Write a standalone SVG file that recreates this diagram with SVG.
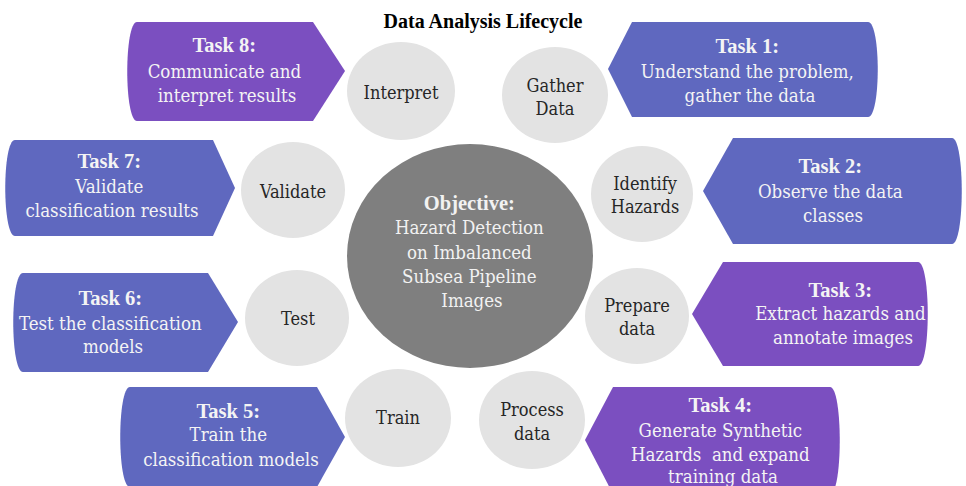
<svg xmlns="http://www.w3.org/2000/svg" width="966" height="486" viewBox="0 0 966 486">
  <style>
    .bg { fill: #ffffff; }
    .purple { fill: #7b4fc0; }
    .blue { fill: #5f68bf; }
    .step { fill: #e3e3e3; }
    .core { fill: #7f7f7f; }
    text, tspan { font-family: "DejaVu Serif Condensed", "DejaVu Serif", "Liberation Serif", serif; font-stretch: condensed; text-anchor: middle; }
    .title { font-family: "Liberation Serif", serif; font-size: 20px; font-weight: bold; fill: #000000; }
    .task { font-size: 18.5px; fill: #f4f4f4; }
    .h { font-family: "Liberation Serif", serif; font-weight: bold; font-size: 20.5px; }
    .lbl { font-size: 18px; fill: #262626; }
    .obj { font-size: 18.5px; fill: #f2f2f2; }
  </style>

  <rect class="bg" x="0" y="0" width="966" height="486"/>

  <text class="title" x="483" y="28">Data Analysis Lifecycle</text>

  <!-- central objective -->
  <g id="objective">
    <ellipse class="core" cx="470" cy="256" rx="123" ry="112"/>
    <text class="obj">
      <tspan class="h" x="472" y="210">Objective:</tspan>
      <tspan x="472" y="234">Hazard Detection</tspan>
      <tspan x="472" y="259">on Imbalanced</tspan>
      <tspan x="472" y="283">Subsea Pipeline</tspan>
      <tspan x="472" y="307">Images</tspan>
    </text>
  </g>

  <!-- lifecycle stages -->
  <g id="stage-interpret">
    <ellipse class="step" cx="401" cy="91" rx="54" ry="49"/>
    <text class="lbl" x="401" y="99">Interpret</text>
  </g>
  <g id="stage-gather">
    <ellipse class="step" cx="555" cy="95" rx="53" ry="48"/>
    <text class="lbl"><tspan x="555" y="92">Gather</tspan><tspan x="555" y="115">Data</tspan></text>
  </g>
  <g id="stage-identify">
    <ellipse class="step" cx="642" cy="194" rx="51" ry="48"/>
    <text class="lbl"><tspan x="645" y="190">Identify</tspan><tspan x="645" y="213">Hazards</tspan></text>
  </g>
  <g id="stage-prepare">
    <ellipse class="step" cx="637" cy="316" rx="52" ry="48"/>
    <text class="lbl"><tspan x="637" y="312">Prepare</tspan><tspan x="637" y="335">data</tspan></text>
  </g>
  <g id="stage-process">
    <ellipse class="step" cx="532" cy="420" rx="53" ry="49"/>
    <text class="lbl"><tspan x="532" y="416">Process</tspan><tspan x="532" y="440">data</tspan></text>
  </g>
  <g id="stage-train">
    <ellipse class="step" cx="398" cy="418" rx="53" ry="49"/>
    <text class="lbl" x="398" y="424">Train</text>
  </g>
  <g id="stage-test">
    <ellipse class="step" cx="297" cy="318" rx="52" ry="48"/>
    <text class="lbl" x="298" y="325">Test</text>
  </g>
  <g id="stage-validate">
    <ellipse class="step" cx="293" cy="190" rx="52" ry="48"/>
    <text class="lbl" x="293" y="198">Validate</text>
  </g>

  <!-- task banners -->
  <g id="task1">
    <path class="blue" d="M608,69 L632,22 L868,22 C881,22 881,117 868,117 L632,117 Z"/>
    <text class="task">
      <tspan class="h" x="750" y="53">Task 1:</tspan>
      <tspan x="750" y="78">Understand the problem,</tspan>
      <tspan x="750" y="102">gather the data</tspan>
    </text>
  </g>
  <g id="task2">
    <path class="blue" d="M703,191 L733,138 L952,138 C965,138 965,244 952,244 L733,244 Z"/>
    <text class="task">
      <tspan class="h" x="833" y="173">Task 2:</tspan>
      <tspan x="833" y="198">Observe the data</tspan>
      <tspan x="833" y="222">classes</tspan>
    </text>
  </g>
  <g id="task3">
    <path class="purple" d="M692,314 L723,262 L918,262 C931,262 931,366 918,366 L723,366 Z"/>
    <text class="task">
      <tspan class="h" x="843" y="297">Task 3:</tspan>
      <tspan x="843" y="320">Extract hazards and</tspan>
      <tspan x="843" y="344">annotate images</tspan>
    </text>
  </g>
  <g id="task4">
    <path class="purple" d="M585,440 L613,387 L830,387 C843,387 843,494 830,494 L613,494 Z"/>
    <text class="task">
      <tspan class="h" x="723" y="412">Task 4:</tspan>
      <tspan x="723" y="437">Generate Synthetic</tspan>
      <tspan x="723" y="461" xml:space="preserve">Hazards  and expand</tspan>
      <tspan x="723" y="483">training data</tspan>
    </text>
  </g>
  <g id="task5">
    <path class="blue" d="M130,387 L317,387 L345,437 L317,487 L130,487 C117,487 117,387 130,387 Z"/>
    <text class="task">
      <tspan class="h" x="231" y="418">Task 5:</tspan>
      <tspan x="231" y="441">Train the</tspan>
      <tspan x="231" y="466">classification models</tspan>
    </text>
  </g>
  <g id="task6">
    <path class="blue" d="M23,273 L208,273 L238,322 L208,372 L23,372 C10,372 10,273 23,273 Z"/>
    <text class="task">
      <tspan class="h" x="113" y="305">Task 6:</tspan>
      <tspan x="113" y="330">Test the classification</tspan>
      <tspan x="113" y="353">models</tspan>
    </text>
  </g>
  <g id="task7">
    <path class="blue" d="M15,140 L213,140 L235,188 L213,236 L15,236 C2,236 2,140 15,140 Z"/>
    <text class="task">
      <tspan class="h" x="112" y="168">Task 7:</tspan>
      <tspan x="112" y="193">Validate</tspan>
      <tspan x="112" y="217">classification results</tspan>
    </text>
  </g>
  <g id="task8">
    <path class="purple" d="M137,22 L313,22 L345,71 L313,121 L137,121 C124,121 124,22 137,22 Z"/>
    <text class="task">
      <tspan class="h" x="227" y="52">Task 8:</tspan>
      <tspan x="227" y="78">Communicate and</tspan>
      <tspan x="227" y="102">interpret results</tspan>
    </text>
  </g>

  <!-- no explicit connectors: stages are arranged around the objective -->
  <g id="connectors"></g>
</svg>
